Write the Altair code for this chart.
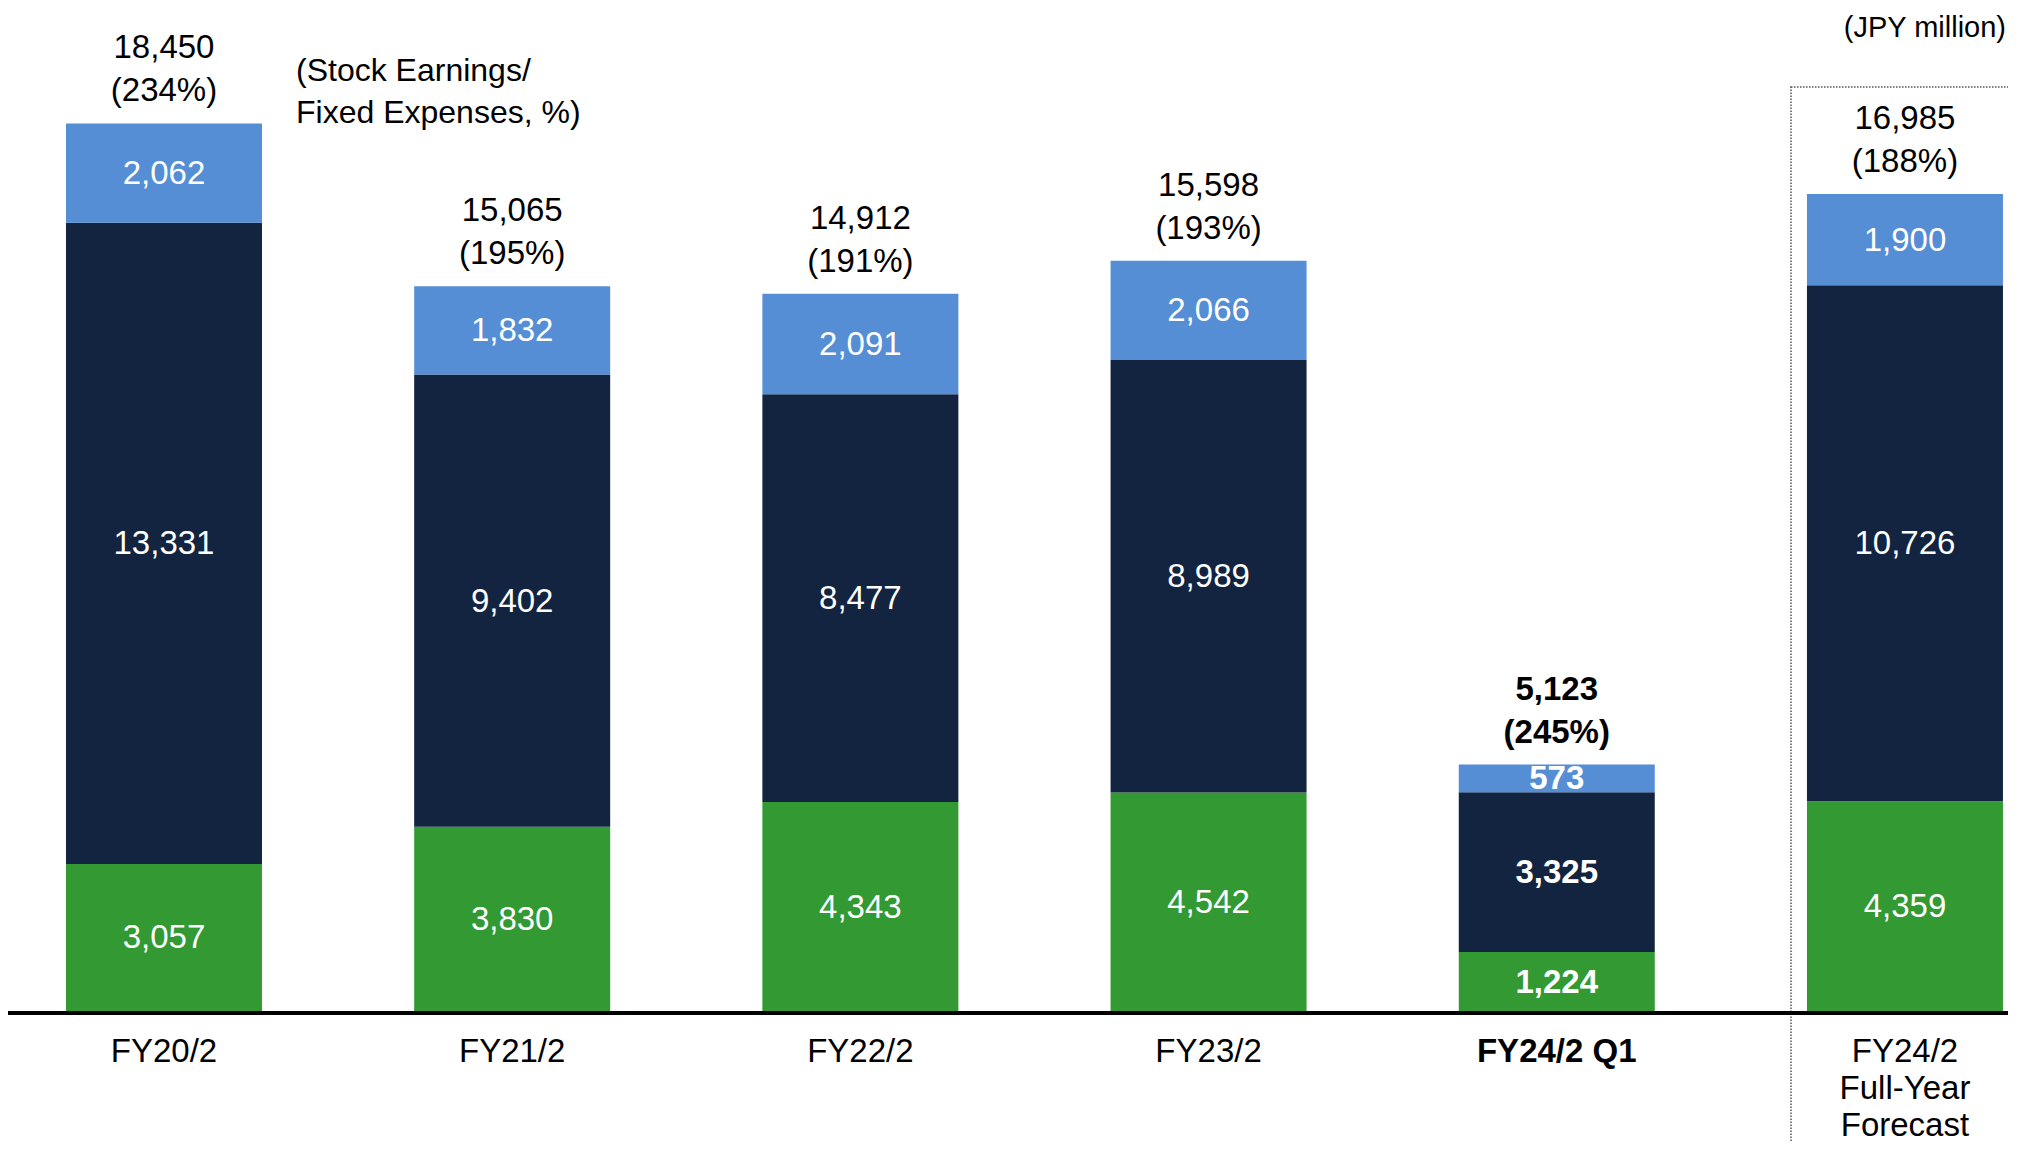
import altair as alt
import pandas as pd

FONT = "Liberation Sans"

categories = ["FY20/2", "FY21/2", "FY22/2", "FY23/2", "FY24/2 Q1", "FY24/2\nFull-Year\nForecast"]
series_names = ["Bottom segment", "Middle segment", "Top segment"]
green_values = [3057, 3830, 4343, 4542, 1224, 4359]
navy_values = [13331, 9402, 8477, 8989, 3325, 10726]
blue_values = [2062, 1832, 2091, 2066, 573, 1900]
total_values = [18450, 15065, 14912, 15598, 5123, 16985]
ratio_values = [234, 195, 191, 193, 245, 188]
highlight = "FY24/2 Q1"
series_colors = ["#339933", "#12243F", "#558ED5"]

seg_rows = []
for i, cat in enumerate(categories):
    for j, vals in enumerate([green_values, navy_values, blue_values]):
        seg_rows.append({
            "cat": cat, "series": series_names[j], "order": j,
            "value": vals[i], "label": f"{vals[i]:,}", "bold": cat == highlight,
        })
seg_df = pd.DataFrame(seg_rows)

tot_df = pd.DataFrame({
    "cat": categories,
    "total": total_values,
    "label": [f"{t:,}\n({r}%)" for t, r in zip(total_values, ratio_values)],
    "bold": [c == highlight for c in categories],
    "zero": [0] * len(categories),
})

one = pd.DataFrame({"zero": [0]})

xscale = alt.Scale(paddingInner=0.4371, paddingOuter=0.0905, align=0.92)
yscale = alt.Scale(domain=[0, 20850])

x_plain = alt.X("cat:N", sort=categories, scale=xscale, title=None, axis=None)

stacked = alt.Chart(seg_df).transform_stack(
    stack="value", groupby=["cat"], as_=["y0", "y1"],
    sort=[alt.SortField("order", order="ascending")],
).transform_calculate(mid="(datum.y0 + datum.y1) / 2")

bars = stacked.mark_bar(strokeWidth=0).encode(
    x=x_plain,
    y=alt.Y("y0:Q", scale=yscale, axis=None),
    y2="y1:Q",
    color=alt.Color("series:N", scale=alt.Scale(domain=series_names, range=series_colors), legend=None),
)

seg_text_normal = stacked.transform_filter("!datum.bold").mark_text(
    color="white", font=FONT, fontSize=33, baseline="middle", dy=1
).encode(x=x_plain, y=alt.Y("mid:Q", scale=yscale, axis=None), text="label:N")

seg_text_bold = stacked.transform_filter("datum.bold").mark_text(
    color="white", font=FONT, fontSize=33, fontWeight="bold", baseline="middle", dy=1
).encode(x=x_plain, y=alt.Y("mid:Q", scale=yscale, axis=None), text="label:N")

tot_base = alt.Chart(tot_df)
tot_normal = tot_base.transform_filter("!datum.bold").mark_text(
    color="black", font=FONT, fontSize=33, lineBreak="\n", lineHeight=43, baseline="bottom", dy=-58
).encode(x=x_plain, y=alt.Y("total:Q", scale=yscale, axis=None), text="label:N")
tot_bold = tot_base.transform_filter("datum.bold").mark_text(
    color="black", font=FONT, fontSize=33, fontWeight="bold", lineBreak="\n", lineHeight=43,
    baseline="bottom", dy=-58
).encode(x=x_plain, y=alt.Y("total:Q", scale=yscale, axis=None), text="label:N")

cat_normal = tot_base.transform_filter("!datum.bold").mark_text(
    color="black", font=FONT, fontSize=33, lineBreak="\n", lineHeight=37, baseline="top", dy=25
).encode(x=x_plain, y=alt.Y("zero:Q", scale=yscale, axis=None), text="cat:N")
cat_bold = tot_base.transform_filter("datum.bold").mark_text(
    color="black", font=FONT, fontSize=33, fontWeight="bold", lineBreak="\n", lineHeight=37,
    baseline="top", dy=25
).encode(x=x_plain, y=alt.Y("zero:Q", scale=yscale, axis=None), text="cat:N")

baseline_rule = alt.Chart(one).mark_rule(color="black", strokeWidth=4, yOffset=2).encode(
    y=alt.Y("zero:Q", scale=yscale, axis=None), x=alt.value(-2), x2=alt.value(2000)
)

frame = alt.Chart(one).mark_rect(
    fillOpacity=0, stroke="#555555", strokeWidth=1.5, strokeDash=[1.5, 1.5]
).encode(x=alt.value(1783), x2=alt.value(2002), y=alt.value(79), y2=alt.value(1140))

ratio_note = alt.Chart(one).mark_text(
    text="(Stock Earnings/\nFixed Expenses, %)", lineBreak="\n", lineHeight=42.5,
    font=FONT, fontSize=32, color="black", align="left", baseline="alphabetic",
).encode(x=alt.value(288), y=alt.value(72.5))

unit_note = alt.Chart(one).mark_text(
    text="(JPY million)", font=FONT, fontSize=29, color="black", align="right", baseline="alphabetic",
).encode(x=alt.value(1998), y=alt.value(28.7))

chart = alt.layer(
    frame, bars, baseline_rule, seg_text_normal, seg_text_bold, tot_normal, tot_bold,
    cat_normal, cat_bold, ratio_note, unit_note
).properties(
    width=2000, height=1003,
    autosize=alt.AutoSizeParams(type="none"),
    padding={"left": 0, "top": 0, "right": 0, "bottom": 131},
    background="white",
).configure_view(stroke=None)

chart.save("out.html", embed_options={"renderer": "svg", "actions": False})
